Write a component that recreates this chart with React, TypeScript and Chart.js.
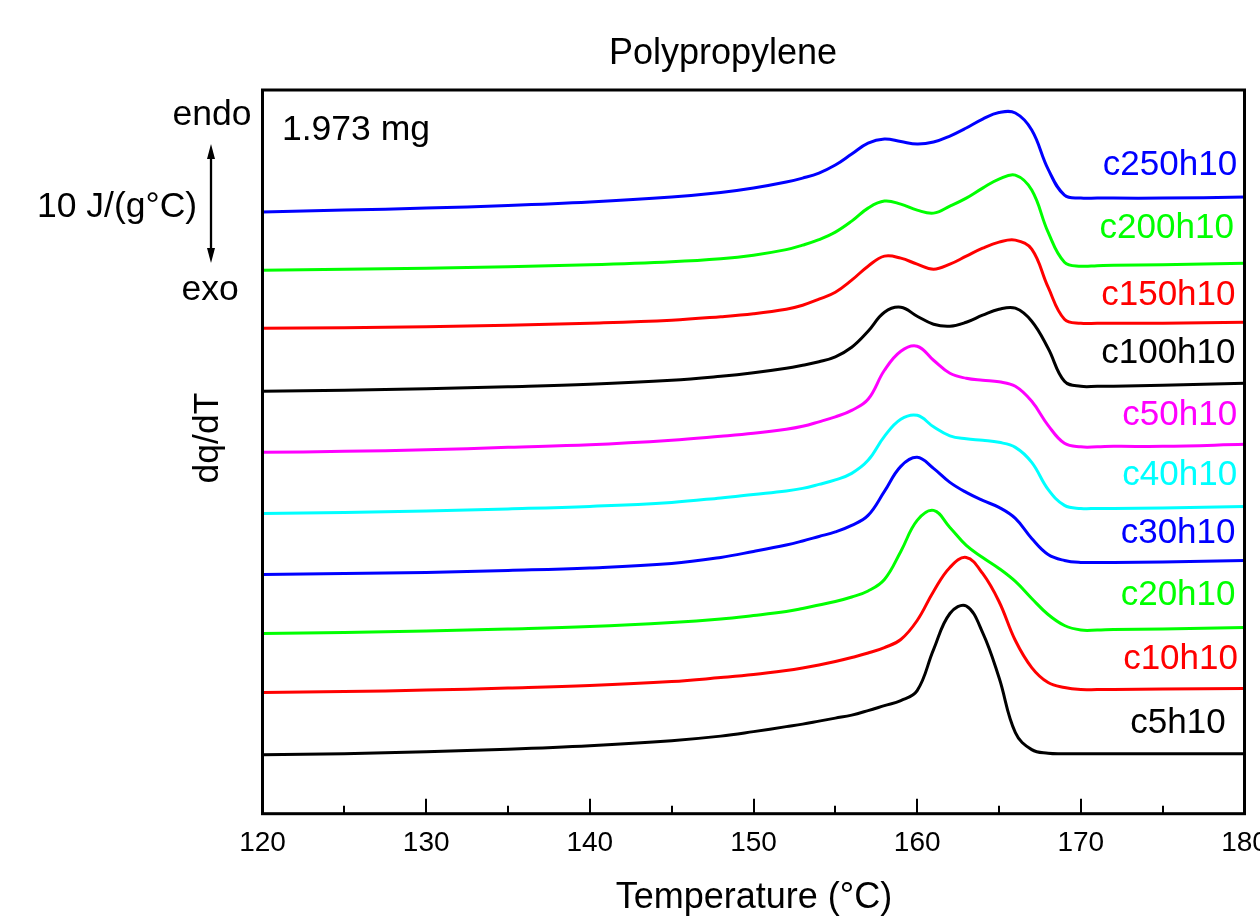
import React, { useEffect, useRef } from "react";
import { Chart, registerables } from "chart.js";

Chart.register(...registerables);

const FONT = '"Liberation Sans", Arial, Helvetica, sans-serif';

// Temperature sample points (°C)
const temperatures = [120, 125, 130, 135, 140, 145, 148, 150, 152, 153, 154, 155, 156, 157, 158, 159, 160, 161, 162, 163, 164, 165, 166, 167, 168, 169, 170, 171, 172, 175, 180];

// dq/dT curves (arbitrary units, curves offset vertically)
const c250h10 = [60.1, 60.3, 60.5, 60.75, 61.1, 61.6, 62.05, 62.5, 63.1, 63.5, 64.0, 64.8, 65.9, 67.0, 67.4, 67.15, 66.9, 67.1, 67.7, 68.5, 69.4, 70.05, 70.0, 68.3, 64.4, 61.8, 61.5, 61.5, 61.5, 61.5, 61.6];
const c200h10 = [54.3, 54.4, 54.5, 54.65, 54.85, 55.15, 55.45, 55.8, 56.35, 56.8, 57.35, 58.1, 59.2, 60.5, 61.2, 60.9, 60.3, 60.0, 60.7, 61.5, 62.5, 63.4, 63.8, 62.3, 58.1, 55.1, 54.7, 54.75, 54.8, 54.85, 55.0];
const c150h10 = [48.5, 48.55, 48.65, 48.8, 49.0, 49.3, 49.65, 49.95, 50.4, 50.8, 51.4, 52.1, 53.3, 54.7, 55.7, 55.5, 54.9, 54.4, 54.9, 55.7, 56.5, 57.1, 57.3, 56.4, 52.6, 49.4, 49.0, 49.0, 49.0, 49.0, 49.1];
const c100h10 = [42.2, 42.3, 42.45, 42.65, 42.9, 43.3, 43.7, 44.05, 44.5, 44.8, 45.15, 45.65, 46.6, 48.2, 50.1, 50.6, 49.7, 48.9, 48.7, 49.1, 49.8, 50.4, 50.5, 49.2, 46.5, 43.2, 42.7, 42.7, 42.7, 42.8, 43.0];
const c50h10 = [36.1, 36.2, 36.35, 36.6, 36.85, 37.3, 37.7, 38.0, 38.4, 38.7, 39.15, 39.65, 40.3, 41.4, 44.3, 46.2, 46.7, 45.3, 44.0, 43.5, 43.3, 43.15, 42.7, 41.2, 38.8, 37.0, 36.65, 36.65, 36.7, 36.7, 36.9];
const c40h10 = [30.0, 30.1, 30.25, 30.45, 30.7, 31.1, 31.55, 31.9, 32.25, 32.5, 32.9, 33.35, 34.0, 35.3, 37.7, 39.4, 39.8, 38.65, 37.75, 37.45, 37.3, 37.1, 36.6, 35.1, 32.4, 30.8, 30.5, 30.5, 30.5, 30.55, 30.7];
const c30h10 = [23.9, 24.0, 24.1, 24.3, 24.55, 25.0, 25.6, 26.2, 26.85, 27.25, 27.7, 28.15, 28.8, 29.8, 32.2, 34.7, 35.6, 34.5, 33.1, 32.1, 31.3, 30.6, 29.5, 27.5, 25.9, 25.3, 25.1, 25.1, 25.1, 25.15, 25.3];
const c20h10 = [18.0, 18.1, 18.25, 18.45, 18.7, 19.1, 19.45, 19.8, 20.2, 20.5, 20.85, 21.2, 21.65, 22.25, 23.4, 26.2, 29.3, 30.3, 28.6, 26.8, 25.6, 24.5, 23.2, 21.5, 19.9, 18.8, 18.35, 18.35, 18.4, 18.45, 18.6];
const c10h10 = [12.1, 12.2, 12.35, 12.55, 12.8, 13.2, 13.6, 13.9, 14.3, 14.55, 14.85, 15.2, 15.6, 16.05, 16.6, 17.4, 19.3, 22.2, 24.6, 25.6, 24.0, 21.2, 17.3, 14.6, 13.1, 12.6, 12.4, 12.4, 12.4, 12.45, 12.5];
const c5h10 = [5.9, 6.0, 6.2, 6.45, 6.8, 7.3, 7.75, 8.2, 8.7, 8.95, 9.25, 9.55, 9.85, 10.3, 10.8, 11.3, 12.3, 16.4, 20.0, 20.75, 18.1, 13.6, 8.1, 6.4, 6.05, 6.0, 6.0, 6.0, 6.0, 6.0, 6.0];

const seriesNames = ["c250h10", "c200h10", "c150h10", "c100h10", "c50h10", "c40h10", "c30h10", "c20h10", "c10h10", "c5h10"];
const seriesValues = [c250h10, c200h10, c150h10, c100h10, c50h10, c40h10, c30h10, c20h10, c10h10, c5h10];
const seriesColors = ["#0000FF", "#00FF00", "#FF0000", "#000000", "#FF00FF", "#00FFFF", "#0000FF", "#00FF00", "#FF0000", "#000000"];

// Curve label anchors (right edge temperature, baseline value)
const labelRightT = [179.55, 179.35, 179.45, 179.45, 179.55, 179.55, 179.45, 179.45, 179.6, 178.85];
const labelBaseY = [63.8, 57.5, 50.8, 45.0, 38.8, 32.8, 27.0, 20.8, 14.5, 8.1];

const xMajorTicks = [120, 130, 140, 150, 160, 170, 180];
const xMinorTicks = [125, 135, 145, 155, 165, 175];

const chartTitle = "Polypropylene";
const xAxisTitle = "Temperature (°C)";
const yAxisTitle = "dq/dT";
const sampleMass = "1.973 mg";

const decorPlugin = {
  id: "decor",
  afterDraw(chart: any) {
    const { ctx, chartArea: a } = chart;
    const x = chart.scales.x;
    const y = chart.scales.y;
    ctx.save();
    ctx.strokeStyle = "#000";
    ctx.fillStyle = "#000";
    // inward ticks
    ctx.lineWidth = 2;
    ctx.beginPath();
    xMajorTicks.forEach((v) => {
      const px = Math.round(x.getPixelForValue(v));
      ctx.moveTo(px, a.bottom);
      ctx.lineTo(px, a.bottom - 15);
    });
    xMinorTicks.forEach((v) => {
      const px = Math.round(x.getPixelForValue(v));
      ctx.moveTo(px, a.bottom);
      ctx.lineTo(px, a.bottom - 8);
    });
    ctx.stroke();
    // frame
    ctx.lineWidth = 3;
    ctx.strokeRect(a.left, a.top, a.right - a.left, a.bottom - a.top);

    // title & texts
    ctx.textBaseline = "alphabetic";
    ctx.textAlign = "center";
    ctx.font = `36px ${FONT}`;
    ctx.fillText(chartTitle, 723, 63.5);
    ctx.fillText(xAxisTitle, 754, 908);
    ctx.font = `35.5px ${FONT}`;
    ctx.fillText("endo", 212, 125);
    ctx.fillText("exo", 210, 300);
    ctx.textAlign = "left";
    ctx.fillText("10 J/(g°C)", 37, 217);
    ctx.fillText(sampleMass, 282, 140);

    ctx.save();
    ctx.translate(218, 438);
    ctx.rotate(-Math.PI / 2);
    ctx.textAlign = "center";
    ctx.fillText(yAxisTitle, 0, 0);
    ctx.restore();

    // double arrow
    ctx.lineWidth = 2.3;
    ctx.beginPath();
    ctx.moveTo(211, 155);
    ctx.lineTo(211, 252);
    ctx.stroke();
    ctx.beginPath();
    ctx.moveTo(211, 144);
    ctx.lineTo(215, 159);
    ctx.lineTo(207, 159);
    ctx.closePath();
    ctx.fill();
    ctx.beginPath();
    ctx.moveTo(211, 263);
    ctx.lineTo(215, 248);
    ctx.lineTo(207, 248);
    ctx.closePath();
    ctx.fill();

    // series labels
    ctx.font = `35px ${FONT}`;
    ctx.textAlign = "right";
    seriesNames.forEach((name, i) => {
      ctx.fillStyle = seriesColors[i];
      ctx.fillText(name, x.getPixelForValue(labelRightT[i]), y.getPixelForValue(labelBaseY[i]));
    });
    ctx.restore();
  },
};

export default function App() {
  const canvasRef = useRef<HTMLCanvasElement | null>(null);

  useEffect(() => {
    if (!canvasRef.current) return;
    const datasets = seriesValues.map((vals, i) => ({
      label: seriesNames[i],
      data: temperatures.map((t, j) => ({ x: t, y: vals[j] })),
      borderColor: seriesColors[i],
      backgroundColor: seriesColors[i],
      borderWidth: 3,
      borderJoinStyle: "round" as const,
      pointRadius: 0,
      tension: 0.4,
      fill: false,
    }));
    const chart = new Chart(canvasRef.current, {
      type: "line",
      data: { datasets },
      options: {
        animation: false,
        responsive: false,
        maintainAspectRatio: false,
        devicePixelRatio: 1,
        layout: { padding: { left: 262.5, right: 55.5, top: 90, bottom: 45.7 } },
        plugins: { legend: { display: false }, tooltip: { enabled: false }, title: { display: false } },
        scales: {
          x: {
            type: "linear",
            min: 120,
            max: 180,
            grid: { display: false, drawTicks: false },
            border: { display: false },
            ticks: {
              stepSize: 10,
              padding: 13,
              color: "#000",
              font: { family: FONT, size: 28 },
              maxRotation: 0,
              autoSkip: false,
            },
          },
          y: {
            type: "linear",
            min: 0,
            max: 72.3,
            display: false,
          },
        },
      },
      plugins: [decorPlugin],
    });
    return () => chart.destroy();
  }, []);

  return (
    <div style={{ position: "fixed", left: 0, top: 0, width: 1260, height: 919, overflow: "hidden", background: "#fff" }}>
      <canvas ref={canvasRef} width={1300} height={919} style={{ display: "block", width: 1300, height: 919 }} />
    </div>
  );
}
